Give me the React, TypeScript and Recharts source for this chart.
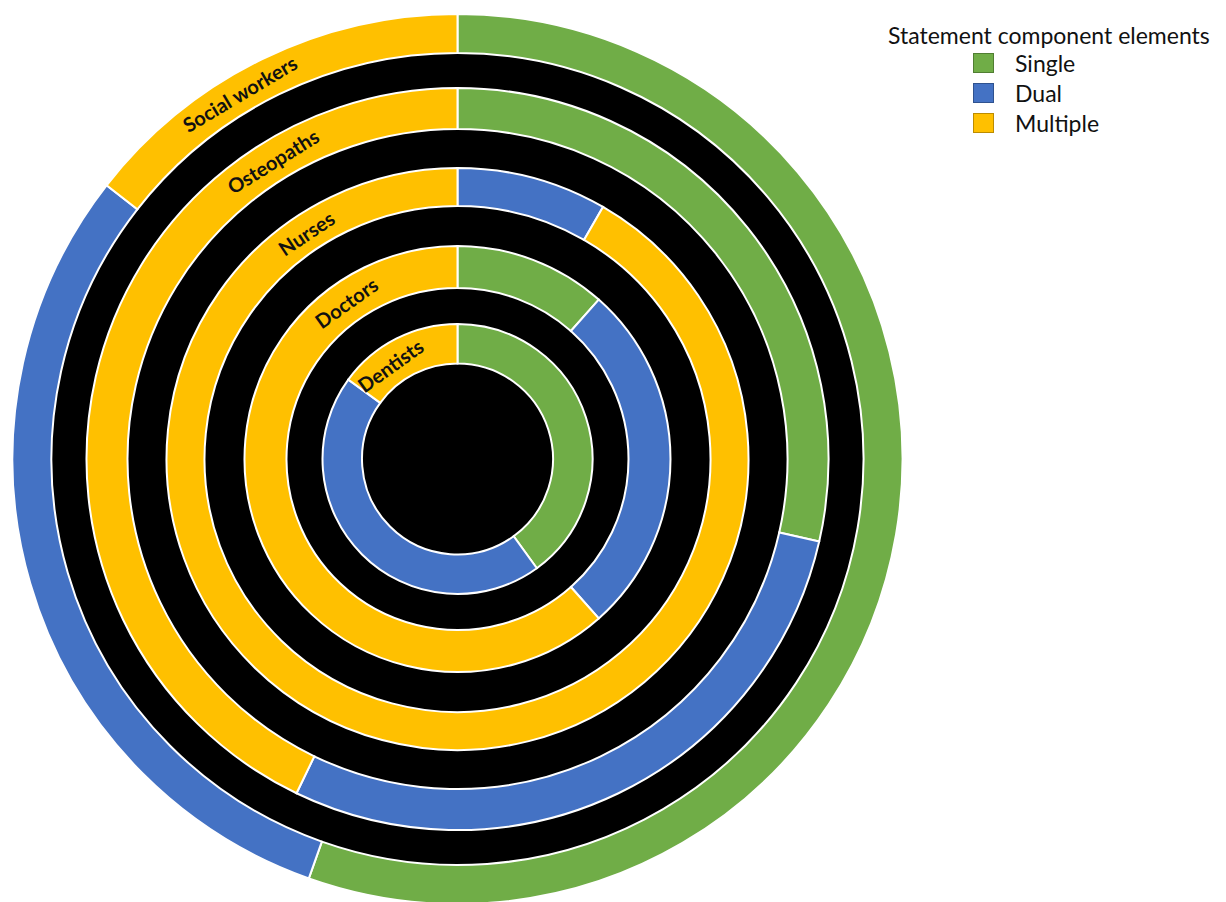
import { Cell, Pie, PieChart } from "recharts";

// professions, innermost ring first
const professions = ["Dentists", "Doctors", "Nurses", "Osteopaths", "Social workers"];
const seriesNames = ["Single", "Dual", "Multiple"];
const singleValues = [8, 3, 0, 2, 46];
const dualValues = [9, 7, 1, 2, 25];
const multipleValues = [3, 16, 11, 3, 12];

const COLORS = ["#70AD47", "#4472C4", "#FFC000"];
const BORDERS = ["#507E32", "#2F528F", "#BC8C00"];

const CX = 457.5;
const CY = 459;
const INNER = [95.5, 171, 253, 330, 406];
const OUTER = [135, 213, 291, 371, 445];
const LABEL_ANGLES = [324.3, 324.6, 326.2, 328.2, 329.2];
const FONT = "Lato, 'Open Sans', sans-serif";

function ringData(i: number) {
  const cols = [singleValues, dualValues, multipleValues];
  return seriesNames.map((name, s) => ({ name, value: cols[s][i] }));
}

function ringLabel(ring: number) {
  return (p: any) => {
    const name = p?.payload?.name ?? p?.name;
    if (name !== "Multiple") return null;
    const cx = Number(p.cx);
    const cy = Number(p.cy);
    const r = (Number(p.innerRadius) + Number(p.outerRadius)) / 2;
    const a = LABEL_ANGLES[ring];
    const rad = (a * Math.PI) / 180;
    const x = cx + r * Math.sin(rad);
    const y = cy - r * Math.cos(rad);
    return (
      <text
        x={x}
        y={y}
        textAnchor="middle"
        dominantBaseline="central"
        transform={`rotate(${a - 360} ${x} ${y})`}
        fontFamily={FONT}
        fontWeight={700}
        fontSize={20}
        fill="#111"
      >
        {professions[ring]}
      </text>
    );
  };
}

function LegendBox() {
  return (
    <div
      style={{
        position: "absolute",
        left: 880,
        top: 22,
        width: 346,
        fontFamily: FONT,
        color: "#111",
      }}
    >
      <div style={{ fontSize: 23, lineHeight: "26px", paddingLeft: 8, whiteSpace: "nowrap" }}>
        Statement component elements
      </div>
      {seriesNames.map((name, i) => (
        <div
          key={name}
          style={{ display: "flex", alignItems: "center", height: 30.2, fontSize: 23 }}
        >
          <span
            style={{
              display: "inline-block",
              marginLeft: 93,
              width: 19,
              height: 18,
              background: COLORS[i],
              border: `1.5px solid ${BORDERS[i]}`,
            }}
          />
          <span style={{ marginLeft: 21, lineHeight: "26px" }}>{name}</span>
        </div>
      ))}
    </div>
  );
}

export default function App() {
  return (
    <div style={{ position: "absolute", left: 0, top: 0, width: 1226, height: 902, background: "#fff" }}>
      <PieChart width={1226} height={902} margin={{ top: 0, right: 0, bottom: 0, left: 0 }}>
        <Pie
          data={[{ name: "bg", value: 1 }]}
          dataKey="value"
          cx={CX}
          cy={CY}
          innerRadius={0}
          outerRadius={406}
          fill="#000"
          stroke="none"
          isAnimationActive={false}
        />
        {professions.map((prof, i) => (
          <Pie
            key={prof}
            data={ringData(i)}
            dataKey="value"
            nameKey="name"
            cx={CX}
            cy={CY}
            innerRadius={INNER[i]}
            outerRadius={OUTER[i]}
            startAngle={90}
            endAngle={-270}
            stroke="#fff"
            strokeWidth={2}
            label={ringLabel(i)}
            labelLine={false}
            isAnimationActive={false}
          >
            {seriesNames.map((s, k) => (
              <Cell key={s} fill={COLORS[k]} />
            ))}
          </Pie>
        ))}
      </PieChart>
      <LegendBox />
    </div>
  );
}
